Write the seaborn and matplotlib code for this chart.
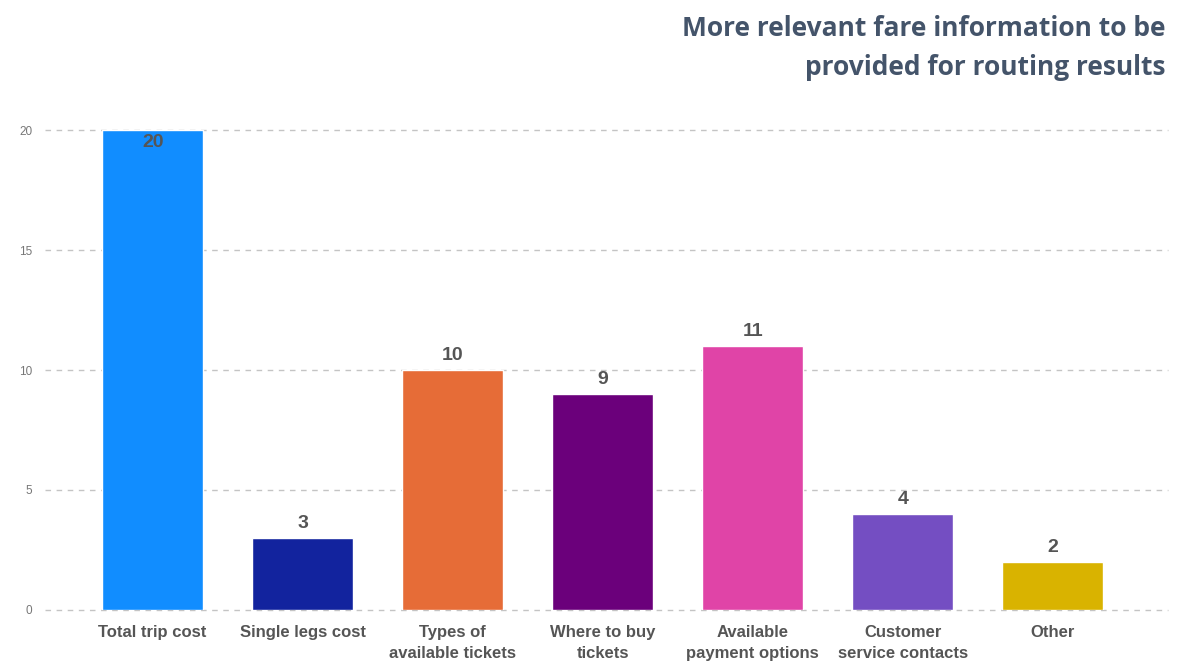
import matplotlib
matplotlib.use("Agg")
import matplotlib.pyplot as plt
import seaborn as sns
import pandas as pd

# Survey answers: which fare details should accompany routing results
categories = [
    "Total trip cost",
    "Single legs cost",
    "Types of\navailable tickets",
    "Where to buy\ntickets",
    "Available\npayment options",
    "Customer\nservice contacts",
    "Other",
]
counts = [20, 3, 10, 9, 11, 4, 2]
bar_colors = ["#118DFF", "#12239E", "#E66C37", "#6B007B", "#E044A7", "#744EC2", "#D9B300"]
y_ticks = [0, 5, 10, 15, 20]
title = "More relevant fare information to be\nprovided for routing results"

df = pd.DataFrame({"category": categories, "count": counts})

sns.set_theme(style="white")
plt.rcParams["font.family"] = ["Liberation Sans", "DejaVu Sans"]

fig = plt.figure(figsize=(11.86, 6.61), dpi=100)
ax = fig.add_axes([0.038, 0.0772, 0.947, 0.726])

sns.barplot(data=df, x="category", y="count", hue="category",
            palette=bar_colors, width=0.67, legend=False, ax=ax,
            saturation=1)

ax.set_ylim(0, 20)
ax.set_xlim(-0.717, 6.77)
ax.set_yticks(y_ticks)
ax.yaxis.grid(True, linestyle=(0, (4, 4)), color="#c4c4c4", linewidth=1)
for gl in ax.get_ygridlines():
    gl.set_clip_on(False)
ax.set_axisbelow(True)
for s in ax.spines.values():
    s.set_visible(False)
ax.set_xlabel("")
ax.set_ylabel("")
ax.tick_params(axis="y", length=0, labelsize=8.5, labelcolor="#777777", pad=9)
ax.tick_params(axis="x", length=0, labelsize=12, labelcolor="#555555", pad=11)
for lbl in ax.get_xticklabels():
    lbl.set_fontweight("bold")
    lbl.set_linespacing(1.45)
    lbl.set_verticalalignment("top")

# Value labels: above each bar, inside the top for the tallest one
top = max(counts)
for i, v in enumerate(counts):
    if v == top:
        ax.annotate(str(v), (i, v), xytext=(0, -3), textcoords="offset points",
                    ha="center", va="top", fontsize=14, fontweight="bold",
                    color="#555555")
    else:
        ax.annotate(str(v), (i, v), xytext=(0, 4), textcoords="offset points",
                    ha="center", va="bottom", fontsize=14, fontweight="bold",
                    color="#555555")

fig.text(0.983, 0.977, title, ha="right", va="top", fontsize=19,
         fontweight="bold", color="#44546A", family=["Open Sans", "DejaVu Sans"],
         linespacing=1.55)

fig.savefig("out.png", dpi=100)
